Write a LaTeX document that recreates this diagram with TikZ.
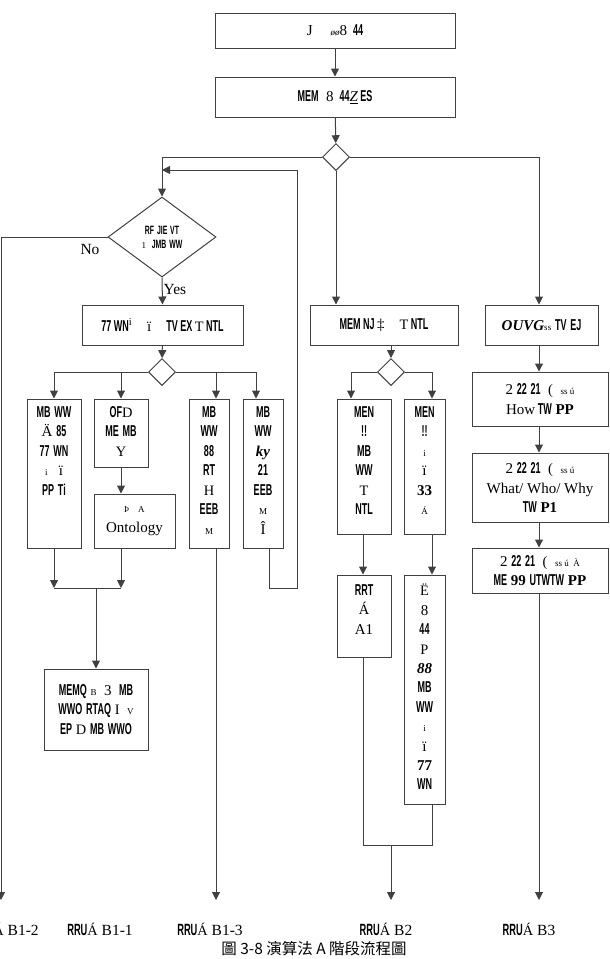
\documentclass[tikz,border=0pt]{standalone}
\usepackage{fontspec}
\usepackage{graphicx}
\setmainfont{Liberation Serif}
\setsansfont{Liberation Sans}
\newfontfamily\cjk{Noto Sans CJK TC}
\usetikzlibrary{arrows.meta,shapes.geometric}
\newcommand\gb[1]{\scalebox{0.6}[1.05]{\sffamily\bfseries #1}}
\definecolor{ln}{gray}{0.25}
\tikzset{
  box/.style={draw=ln,line width=1pt,rectangle,inner sep=0pt},
  dia/.style={draw=ln,line width=1pt,diamond,inner sep=0pt,aspect=1},
  txt/.style={inner sep=0pt,align=center,font=\fontsize{15}{19.5}\selectfont},
  lbl/.style={inner sep=0pt,font=\fontsize{15.5}{17}\selectfont},
  con/.style={draw=ln,line width=1pt},
  arr/.style={con,-{Triangle[length=8pt,width=8pt]}}
}
\begin{document}
\begin{tikzpicture}[x=1pt,y=-1pt]
\useasboundingbox (0,0) rectangle (610,959);
% boxes
\node[box,minimum width=240,minimum height=35] (b0) at (335,30.5) {};
\node[box,minimum width=240,minimum height=40] (b00) at (335,97) {};
\node[dia,minimum width=27,minimum height=27] (d1) at (336,157) {};
\node[dia,minimum width=108,minimum height=80,aspect=1.35] (d2) at (162,237) {};
\node[box,minimum width=161,minimum height=40] (b1) at (162.5,325) {};
\node[dia,minimum width=27,minimum height=27] (d3) at (162,372) {};
\node[box,minimum width=54,minimum height=149] (b1a) at (54,473.5) {};
\node[box,minimum width=54,minimum height=68] (b1b) at (121,433) {};
\node[box,minimum width=81,minimum height=54] (ont) at (134.5,521) {};
\node[box,minimum width=40,minimum height=149] (b1c) at (209,473.5) {};
\node[box,minimum width=40,minimum height=149] (b1d) at (263,473.5) {};
\node[box,minimum width=104,minimum height=81] (mq) at (96,709.5) {};
\node[box,minimum width=148,minimum height=40] (b2) at (384,325) {};
\node[dia,minimum width=27,minimum height=27] (d4) at (391,372) {};
\node[box,minimum width=54,minimum height=135] (b2a) at (364,466.5) {};
\node[box,minimum width=41,minimum height=135] (b2b) at (424.5,466.5) {};
\node[box,minimum width=54,minimum height=82] (a1) at (364,616) {};
\node[box,minimum width=41,minimum height=229] (b2c) at (424.5,689.5) {};
\node[box,minimum width=113,minimum height=40] (b3) at (541.5,325) {};
\node[box,minimum width=136,minimum height=54] (h1) at (540,399) {};
\node[box,minimum width=136,minimum height=69] (h2) at (540,487.5) {};
\node[box,minimum width=136,minimum height=45] (h3) at (540,570.5) {};
% texts
\node[txt] (t0) at (b0) {J\hspace{1.2em}{\small\itshape øø}8\hspace{0.4em}\gb{44}};
\node[txt] (t00) at (b00) {\gb{MEM}\hspace{0.5em}8\hspace{0.4em}\gb{44}\underline{\itshape Z}\,\gb{ES}};
\node[txt,font=\fontsize{11.5}{15}\selectfont] (td2) at (d2) {\gb{RF}\ \gb{JIE}\ \gb{VT}\\[-1pt] {\small 1}\ \ \gb{JMB}\ \gb{WW}};
\node[txt] (t1) at (b1) {\gb{77}\,\gb{WN}\textsuperscript{i}\quad ï\quad\gb{TV}\,\gb{EX}\,{\Large T}\,\gb{NTL}};
\node[txt] (t2) at (b2) {\gb{MEM}\,\gb{NJ}\,‡\quad {\Large T}\,\gb{NTL}};
\node[txt] (t3) at (b3) {\textbf{\textit{OUVG}}{\small ss}\ \gb{TV}\ \gb{EJ}};
\node[txt] (th1) at (h1) {2\ \gb{22}\ \gb{21}\ \ {\Large (}\ \ {\small ss ú}\\How\,\gb{TW}\ \textbf{PP}};
\node[txt] (th2) at (h2) {2\ \gb{22}\ \gb{21}\ \ {\Large (}\ \ {\small ss ú}\\What/ Who/ Why\\\gb{TW}\ \textbf{P1}};
\node[txt] (th3) at (h3) {2\ \gb{22}\ \gb{21}\ \ {\Large (}\ \ {\small ss ú\ \ À}\\\gb{ME}\ \textbf{99}\ \gb{UTWTW}\ \textbf{PP}};
\node[txt,anchor=north] (tb1a) at (54,406) {\gb{MB}\ \gb{WW}\\Ä\ \gb{85}\\\gb{77}\ \gb{WN}\\{\small i}\ \ \ ï\\\gb{PP}\ \gb{Ti}};
\node[txt,anchor=north] (tb1b) at (121,406) {\gb{OF}{\Large D}\\\gb{ME}\ \gb{MB}\\{\Large Y}};
\node[txt] (tont) at (ont) {{\small Þ\quad A}\\Ontology};
\node[txt,anchor=north] (tb1c) at (209,406) {\gb{MB}\\\gb{WW}\\\gb{88}\\\gb{RT}\\{\Large H}\\\gb{EEB}\\{\small M}};
\node[txt,anchor=north] (tb1d) at (263,406) {\gb{MB}\\\gb{WW}\\\textbf{\textit{ky}}\\\gb{21}\\\gb{EEB}\\{\small M}\\Î};
\node[txt,anchor=north] (tb2a) at (364,406) {\gb{MEN}\\\gb{!!}\\\gb{MB}\\\gb{WW}\\{\Large T}\\\gb{NTL}};
\node[txt,anchor=north] (tb2b) at (424.5,406) {\gb{MEN}\\\gb{!!}\\{\small i}\\ï\\\textbf{33}\\{\small Á}};
\node[txt,anchor=north] (ta1) at (364,584) {\gb{RRT}\\{\Large Á}\\A1};
\node[txt,anchor=north,font=\fontsize{15}{19.4}\selectfont] (tb2c) at (424.5,584) {{\Large Ë}\\8\\\gb{44}\\{\Large P}\\\textbf{\textit{88}}\\\gb{MB}\\\gb{WW}\\{\small i}\\ï\\\textbf{77}\\\gb{WN}};
\node[txt] (tmq) at (mq) {\gb{MEMQ}\ {\small B}\ \ 3\ \ \gb{MB}\\\gb{WWO}\ \gb{RTAQ}\ {\Large I}\ \ {\small V}\\\gb{EP}\ {\Large D}\ \gb{MB}\ \gb{WWO}};
% coordinates
\coordinate (noend) at (1,900);
\coordinate (c13) at (216,900);
\coordinate (c2end) at (391,900);
\coordinate (c3end) at (539,900);
\coordinate (jl) at (54,588);
\coordinate (jr) at (121,588);
\coordinate (jm) at (96,588);
\coordinate (lb1) at (269,588);
\coordinate (lb2) at (297,588);
\coordinate (lb3) at (297,170);
\coordinate (lb4) at (162,170);
\coordinate (m1) at (363,845);
\coordinate (m2) at (432,845);
\coordinate (m3) at (391,845);
% connectors
\draw[arr] (b0) -- (b00);
\draw[arr] (b00) -- (d1);
\draw[arr] (d1.west) -| (d2.north);
\draw[arr] (d1.south) -- (d1.south |- b2.north);
\draw[arr] (d1.east) -| (b3.north -| 539,0);
\draw[arr] (d2.south) -- (b1.north) node[pos=0.45,right=1pt,lbl] (yes) {Yes};
\draw[arr] (d2.west) -| (noend);
\node[lbl] (no) at (90,249) {No};
\draw[arr] (b1) -- (d3);
\draw[arr] (d3.west) -| (b1a.north);
\draw[arr] (d3.west) -| (b1b.north);
\draw[arr] (d3.east) -| (b1c.north -| c13);
\draw[arr] (d3.east) -| (b1d.north -| 256,0);
\draw[arr] (b1a.south) -- (jl);
\draw[arr] (b1b.south) -- (b1b.south |- ont.north);
\draw[arr] (b1b.south |- ont.south) -- (jr);
\draw[con] (jl) -- (jr);
\draw[arr] (jm) -- (mq.north);
\draw[arr] (b1c.south -| c13) -- (c13);
\draw[arr] (b1d.south -| lb1) -- (lb1) -- (lb2) -- (lb3) -- (lb4);
\draw[arr] (b2.south -| d4) -- (d4.north);
\draw[arr] (d4.west) -| (b2a.north -| 351,0);
\draw[arr] (d4.east) -| (b2b.north -| 432,0);
\draw[arr] (b2a.south -| m1) -- (a1.north -| m1);
\draw[arr] (b2b.south -| m2) -- (b2c.north -| m2);
\draw[con] (a1.south -| m1) -- (m1) -- (m2) -- (b2c.south -| m2);
\draw[arr] (m3) -- (c2end);
\draw[arr] (b3.south -| c3end) -- (h1.north -| c3end);
\draw[arr] (h1.south -| c3end) -- (h2.north -| c3end);
\draw[arr] (h2.south -| c3end) -- (h3.north -| c3end);
\draw[arr] (h3.south -| c3end) -- (c3end);
% bottom labels
\node[lbl] (L12) at (6,929) {\gb{RRU}{\Large Á}\ B1-2};
\node[lbl] (L11) at (100,929) {\gb{RRU}{\Large Á}\ B1-1};
\node[lbl] (L13) at (210,929) {\gb{RRU}{\Large Á}\ B1-3};
\node[lbl] (L2) at (386,929) {\gb{RRU}{\Large Á}\ B2};
\node[lbl] (L3) at (529,929) {\gb{RRU}{\Large Á}\ B3};
\node[inner sep=0pt,font=\cjk\fontsize{15.5}{17}\selectfont] (cap) at (314,949) {圖 3-8 演算法 A 階段流程圖};
\end{tikzpicture}
\end{document}
